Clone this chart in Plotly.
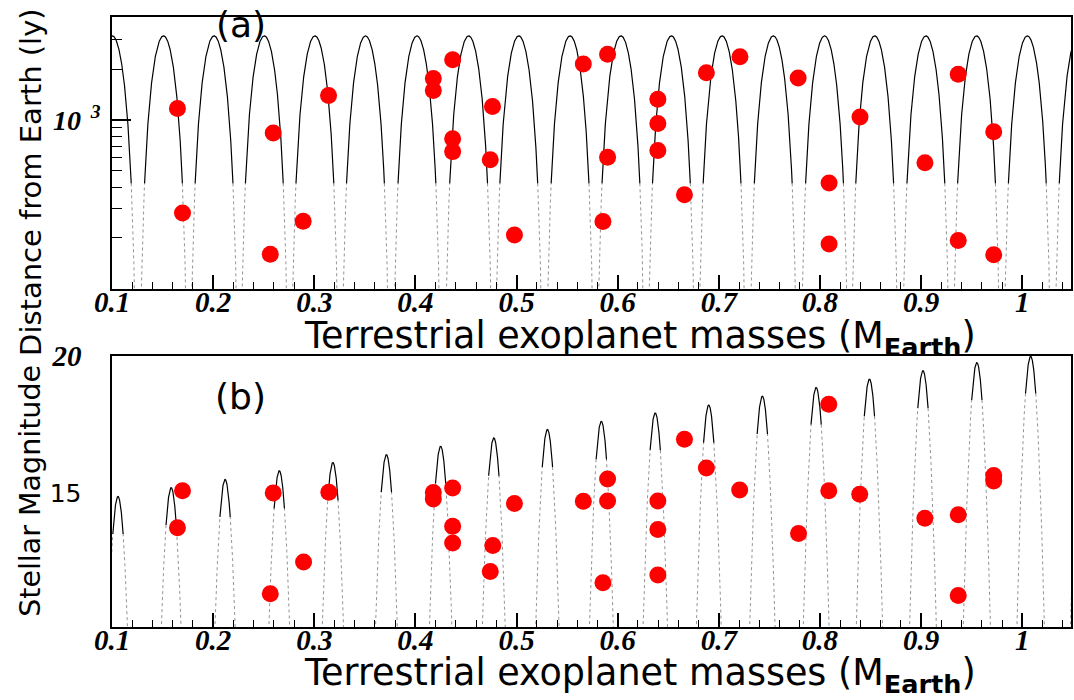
import numpy as np
import plotly.graph_objects as go

# ---------------- data ----------------
# Panel (a): distance from Earth (ly) vs planet mass (M_Earth)
mass_a = [0.1647, 0.1697, 0.2594, 0.2565, 0.2890, 0.3141, 0.4177, 0.4177, 0.4368, 0.4368,
          0.4368, 0.4762, 0.4740, 0.4979, 0.5660, 0.5900, 0.5900, 0.5854, 0.6397, 0.6397,
          0.6397, 0.6660, 0.6877, 0.7209, 0.7784, 0.8396, 0.8090, 0.8090, 0.9038, 0.9367,
          0.9367, 0.9718, 0.9718]
dist_a = [1170, 281, 837, 160, 251, 1397, 1761, 1494, 2270, 773,
          649, 1202, 580, 208, 2143, 2452, 601, 250, 1325, 952,
          658, 360, 1901, 2366, 1772, 1041, 423, 184, 557, 1868,
          193, 852, 159]

# Panel (b): stellar magnitude vs planet mass
mass_b = [0.1697, 0.1647, 0.2594, 0.2565, 0.2894, 0.3144, 0.4177, 0.4177, 0.4368, 0.4368,
          0.4368, 0.4765, 0.4740, 0.4979, 0.5660, 0.5900, 0.5900, 0.5854, 0.6397, 0.6397,
          0.6397, 0.6660, 0.6877, 0.7206, 0.7788, 0.8087, 0.8087, 0.8393, 0.9037, 0.9367,
          0.9367, 0.9718, 0.9718]
mag_b = [15.03, 13.66, 14.95, 11.23, 12.40, 14.97, 14.96, 14.72, 15.13, 13.72,
         13.10, 13.01, 12.05, 14.56, 14.64, 15.46, 14.65, 11.63, 14.65, 13.60,
         11.92, 16.93, 15.87, 15.06, 13.45, 18.22, 15.03, 14.90, 14.01, 14.14,
         11.16, 15.59, 15.39]

# Model arcs: peak positions / heights
arc_a_peak_mass = [0.1003, 0.1509, 0.2009, 0.2506, 0.3006, 0.3506, 0.4015, 0.4526, 0.5022,
                   0.5529, 0.6032, 0.6531, 0.7032, 0.7538, 0.8045, 0.8541, 0.9047, 0.9548,
                   1.0050, 1.0553]
arc_a_peak_dist = [3150] * len(arc_a_peak_mass)
arc_a_period = 0.0503

arc_b_peak_mass = [0.1059, 0.1585, 0.2118, 0.2654, 0.3184, 0.3713, 0.4249, 0.4775, 0.5305,
                   0.5838, 0.6371, 0.6900, 0.7430, 0.7962, 0.8489, 0.9018, 0.9551, 1.0083,
                   1.0615]
arc_b_peak_mag = [14.82, 15.145, 15.45, 15.77, 16.07, 16.36, 16.67, 16.98, 17.29,
                  17.59, 17.90, 18.19, 18.52, 18.84, 19.15, 19.46, 19.76, 19.99,
                  20.30]
arc_b_curv = 53400.0

x_tick_vals = [0.1, 0.2, 0.3, 0.4, 0.5, 0.6, 0.7, 0.8, 0.9, 1.0]
x_tick_text = ["0.1", "0.2", "0.3", "0.4", "0.5", "0.6", "0.7", "0.8", "0.9", "1"]
ya_minor_vals = [200, 300, 400, 500, 600, 700, 800, 900, 2000, 3000]

# ---------------- build arc segments ----------------
def arcs_a():
    sx, sy, dx, dy = [], [], [], []
    for pk, h in zip(arc_a_peak_mass, arc_a_peak_dist):
        m = np.linspace(pk - arc_a_period / 2, pk + arc_a_period / 2, 500)
        d = h * np.abs(np.cos(np.pi * (m - pk) / arc_a_period)) ** 2.15
        d = np.clip(d, 5, None)
        thr = 0.13 * h
        solid = d >= thr
        sx += list(m[solid]) + [None]
        sy += list(d[solid]) + [None]
        left = (m <= pk) & (d <= thr * 1.05)
        right = (m >= pk) & (d <= thr * 1.05)
        dx += list(m[left]) + [None] + list(m[right]) + [None]
        dy += list(d[left]) + [None] + list(d[right]) + [None]
    return sx, sy, dx, dy


def arcs_b():
    sx, sy, dx, dy = [], [], [], []
    for pk, h in zip(arc_b_peak_mass, arc_b_peak_mag):
        half = np.sqrt((h - 9.0) / arc_b_curv)
        m = np.linspace(pk - half, pk + half, 400)
        g = h - arc_b_curv * (m - pk) ** 2
        thr = h - 1.4
        solid = g >= thr
        sx += list(m[solid]) + [None]
        sy += list(g[solid]) + [None]
        left = (m <= pk) & (g <= thr + 0.05)
        right = (m >= pk) & (g <= thr + 0.05)
        dx += list(m[left]) + [None] + list(m[right]) + [None]
        dy += list(g[left]) + [None] + list(g[right]) + [None]
    return sx, sy, dx, dy


fig = go.Figure()

asx, asy, adx, ady = arcs_a()
fig.add_trace(go.Scatter(x=adx, y=ady, mode="lines", xaxis="x", yaxis="y",
                         line=dict(color="#777777", width=0.8, dash="dot"), hoverinfo="skip"))
fig.add_trace(go.Scatter(x=asx, y=asy, mode="lines", xaxis="x", yaxis="y",
                         line=dict(color="black", width=1.2), hoverinfo="skip"))
fig.add_trace(go.Scatter(x=mass_a, y=dist_a, mode="markers", xaxis="x", yaxis="y",
                         marker=dict(color="#ff0000", size=17, line=dict(width=0))))

bsx, bsy, bdx, bdy = arcs_b()
fig.add_trace(go.Scatter(x=bdx, y=bdy, mode="lines", xaxis="x2", yaxis="y2",
                         line=dict(color="#777777", width=0.8, dash="dot"), hoverinfo="skip"))
fig.add_trace(go.Scatter(x=bsx, y=bsy, mode="lines", xaxis="x2", yaxis="y2",
                         line=dict(color="black", width=1.2), hoverinfo="skip"))
fig.add_trace(go.Scatter(x=mass_b, y=mag_b, mode="markers", xaxis="x2", yaxis="y2",
                         marker=dict(color="#ff0000", size=17, line=dict(width=0))))

tickfont = dict(family="Liberation Serif", size=29, color="black", weight="bold", style="italic")
xcommon = dict(range=[0.1, 1.0482], tickmode="array", tickvals=x_tick_vals, ticktext=x_tick_text,
               ticks="inside", ticklen=14, tickwidth=1.5, tickcolor="black",
               minor=dict(dtick=0.02, tick0=0.1, ticks="inside", ticklen=7, tickwidth=1, tickcolor="black"),
               showline=True, linecolor="black", linewidth=2, mirror=True,
               showgrid=False, zeroline=False, tickfont=tickfont, ticklabelstandoff=-14)

PL, PR, PT, PB = 112, 1, 5, 73
W, H = 1074, 700
pw, ph = W - PL - PR, H - PT - PB


def px(x):
    return (x - PL) / pw


def py(y):
    return (H - PB - y) / ph


fig.update_layout(
    width=W, height=H,
    margin=dict(l=PL, r=PR, t=PT, b=PB),
    paper_bgcolor="white", plot_bgcolor="white", showlegend=False,
    xaxis=dict(domain=[0, 1], anchor="y", **xcommon),
    yaxis=dict(domain=[0.5535, 1], anchor="x", type="log", range=[1.996, 3.61],
               tickmode="array", tickvals=[1000], ticktext=["10<sup>  3</sup>"],
               ticks="inside", ticklen=19, tickwidth=1.5, tickcolor="black",
               minor=dict(tickmode="array", tickvals=ya_minor_vals, ticks="inside", ticklen=10,
                          tickwidth=1, tickcolor="black"),
               showline=True, linecolor="black", linewidth=1.5, mirror=True,
               showgrid=False, zeroline=False,
               tickfont=dict(family="Liberation Serif", size=28, color="black", weight="bold", style="italic"),
               ticklabelstandoff=4),
    xaxis2=dict(domain=[0, 1], anchor="y2", **xcommon),
    yaxis2=dict(domain=[0, 0.4442], anchor="x2", range=[10, 20],
                tickmode="array", tickvals=[15, 20],
                ticktext=["<span style='font-family:DejaVu Sans;font-weight:normal;font-style:normal;font-size:25px'>15</span>",
                          "20"],
                ticks="", showline=True, linecolor="black", linewidth=1.5, mirror=True,
                showgrid=False, zeroline=False,
                tickfont=dict(family="Liberation Serif", size=29, color="black", weight="bold", style="italic"),
                ticklabelstandoff=23),
    annotations=[
        dict(text="Terrestrial exoplanet masses (M<sub><b>Earth</b></sub>)", xref="paper", yref="paper",
             x=px(641), y=py(332), xanchor="center", yanchor="middle", showarrow=False,
             font=dict(family="DejaVu Sans", size=36.5, color="black")),
        dict(text="Terrestrial exoplanet masses (M<sub><b>Earth</b></sub>)", xref="paper", yref="paper",
             x=px(641), y=py(676), xanchor="center", yanchor="middle", showarrow=False,
             font=dict(family="DejaVu Sans", size=36.5, color="black")),
        dict(text="Distance from Earth (ly)", xref="paper", yref="paper", textangle=-90,
             x=px(31), y=py(173), xanchor="center", yanchor="middle", showarrow=False,
             font=dict(family="DejaVu Sans", size=29, color="black")),
        dict(text="Stellar Magnitude", xref="paper", yref="paper", textangle=-90,
             x=px(31), y=py(488), xanchor="center", yanchor="middle", showarrow=False,
             font=dict(family="DejaVu Sans", size=28.5, color="black")),
        dict(text="(a)", xref="paper", yref="paper", x=px(241), y=py(13), xanchor="center",
             yanchor="middle", showarrow=False, font=dict(family="DejaVu Sans", size=36, color="black")),
        dict(text="(b)", xref="paper", yref="paper", x=px(241), y=py(392), xanchor="center",
             yanchor="middle", showarrow=False, font=dict(family="DejaVu Sans", size=36, color="black")),
    ],
)

fig.write_html("out.html")
